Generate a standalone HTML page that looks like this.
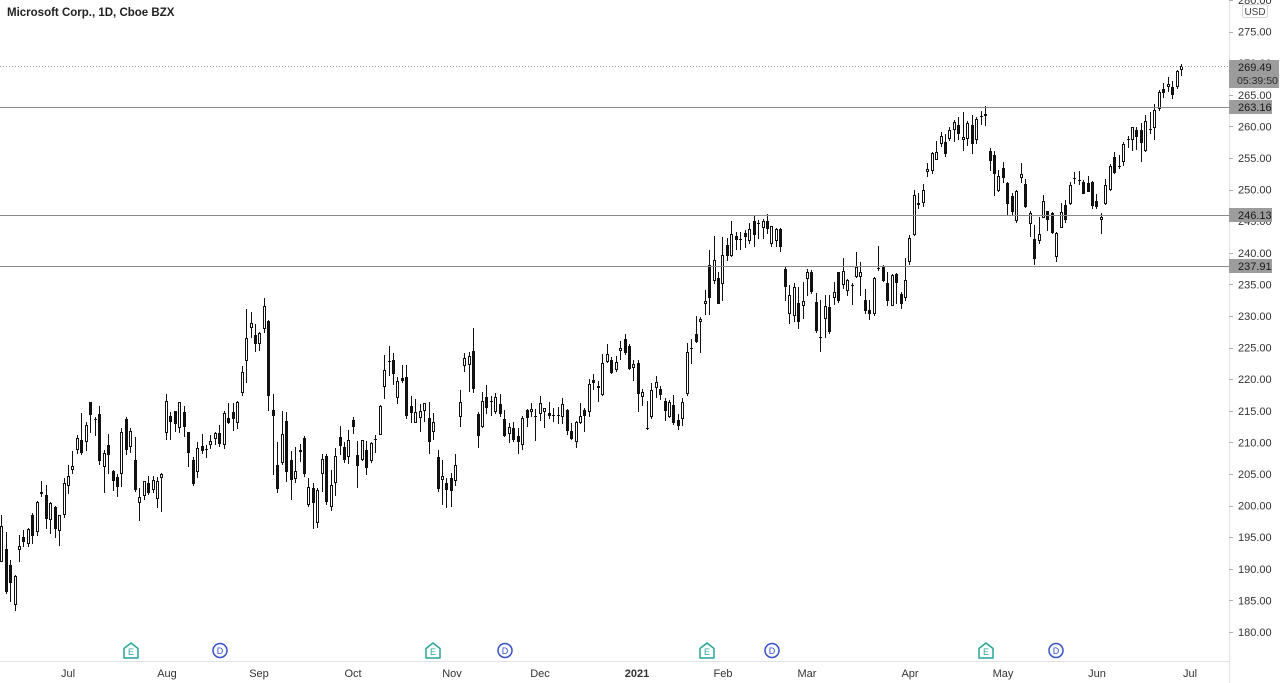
<!DOCTYPE html>
<html>
<head>
<meta charset="utf-8">
<style>
html,body{margin:0;padding:0;background:#fff;}
body{width:1280px;height:683px;overflow:hidden;}
svg{display:block;font-family:"Liberation Sans",Arial,sans-serif;}
</style>
</head>
<body>
<svg id="c" width="1280" height="683" viewBox="0 0 1280 683" xmlns="http://www.w3.org/2000/svg">
<rect width="1280" height="683" fill="#fff"/>
<g id="cand"></g>
<!-- horizontal lines -->
<line x1="0" y1="66.5" x2="1229" y2="66.5" stroke="#9a9a9a" stroke-width="1" stroke-dasharray="1,2"/>
<line x1="0" y1="107.5" x2="1229" y2="107.5" stroke="#8a8a8a" stroke-width="1"/>
<line x1="0" y1="215.5" x2="1229" y2="215.5" stroke="#8a8a8a" stroke-width="1"/>
<line x1="0" y1="266.5" x2="1229" y2="266.5" stroke="#8a8a8a" stroke-width="1"/>
<!-- axes separators -->
<line x1="1229.5" y1="0" x2="1229.5" y2="683" stroke="#e0e3eb" stroke-width="1"/>
<line x1="0" y1="661.5" x2="1229" y2="661.5" stroke="#e0e3eb" stroke-width="1"/>
<g id="axis" font-size="11" fill="#333"></g>
<!-- title -->
<text x="7" y="16" font-size="11.5" font-weight="bold" fill="#222">Microsoft Corp., 1D, Cboe BZX</text>
<!-- USD box -->
<rect x="1242.5" y="4.5" width="25" height="13" fill="#fff" stroke="#d6d6d6" rx="2"/>
<text x="1255" y="15" font-size="10" fill="#444" text-anchor="middle">USD</text>
<!-- price boxes -->
<rect x="1229" y="60" width="50" height="28" fill="#9c9c9c"/>
<text x="1238" y="71" font-size="11" fill="#1a1a1a">269.49</text>
<text x="1237" y="84" font-size="10.5" fill="#2a2a2a">05:39:50</text>
<rect x="1229" y="100" width="43" height="14" fill="#9c9c9c"/>
<text x="1238" y="111" font-size="11" fill="#1a1a1a">263.16</text>
<rect x="1229" y="208" width="43" height="14" fill="#9c9c9c"/>
<text x="1238" y="219" font-size="11" fill="#1a1a1a">246.13</text>
<rect x="1229" y="259" width="43" height="14" fill="#9c9c9c"/>
<text x="1238" y="270" font-size="11" fill="#1a1a1a">237.91</text>
<!-- time labels -->
<g font-size="11" fill="#333" text-anchor="middle">
<text x="68" y="677">Jul</text>
<text x="167" y="677">Aug</text>
<text x="259" y="677">Sep</text>
<text x="353" y="677">Oct</text>
<text x="452" y="677">Nov</text>
<text x="540" y="677">Dec</text>
<text x="637" y="677" font-weight="bold">2021</text>
<text x="723" y="677">Feb</text>
<text x="807" y="677">Mar</text>
<text x="910" y="677">Apr</text>
<text x="1003" y="677">May</text>
<text x="1097" y="677">Jun</text>
<text x="1190" y="677">Jul</text>
</g>
<g id="ev"></g>
</svg>
<script>
(function(){
var D=[
[191.13,198.52,191.01,196.84],[193.13,195.76,186.07,186.27],[190.54,191.4,184.7,187.74],[184.3,189.0,183.3,188.8],[192.9,195.3,191.1,193.57],[195.0,196.1,193.5,194.24],[193.9,196.5,193.5,196.32],[198.59,198.8,194.0,195.15],[195.8,200.8,195.2,200.57],[202.09,203.95,201.43,201.91],[201.6,203.25,196.36,197.84],[197.8,200.61,195.47,200.34],[199.73,199.89,194.88,196.33],[196.0,198.53,193.55,198.44],[198.51,204.4,198.1,203.51],
[203.14,206.35,201.77,204.70],[205.68,208.64,205.0,206.26],[208.83,211.13,208.09,210.70],[210.45,214.67,207.99,208.25],[210.07,213.26,208.69,212.83],[216.33,216.38,211.47,214.32],[213.62,214.08,211.08,213.67],[214.48,215.80,206.50,207.07],[206.13,208.85,202.03,208.35],[209.56,211.33,205.03,208.04],[205.40,205.70,202.31,203.92],[204.47,205.04,201.39,202.88],[205.0,212.30,203.01,211.60],[213.66,213.94,208.03,208.75],[209.20,212.30,208.39,211.75],[207.19,210.92,202.15,202.54],[200.42,202.86,197.51,201.30],[201.47,203.97,200.86,203.85],[203.61,204.70,201.74,202.02],[202.50,204.65,202.01,204.06],[201.0,204.46,199.57,203.90],[204.40,205.10,199.01,205.01],
[211.52,217.64,210.44,216.54],[214.17,214.77,210.31,213.29],[214.90,215.00,211.57,212.94],[212.34,216.37,211.55,216.35],[214.85,215.70,210.93,212.48],[211.67,211.67,206.09,208.25],[207.16,207.65,203.14,203.38],[205.29,210.06,204.31,209.19],[209.44,211.35,208.15,208.70],[208.76,209.59,207.51,208.90],[209.60,211.19,208.92,210.28],[210.52,211.6,209.66,211.49],[211.49,212.70,209.26,209.70],[209.54,215.00,208.91,214.58],[213.86,216.25,212.85,213.02],[214.79,216.17,211.73,213.69],[213.10,216.61,212.17,216.47],[217.88,222.09,217.36,221.15],[222.89,231.15,219.40,226.58],[228.18,230.64,226.58,228.91],[227.0,228.70,224.31,225.53],
[225.51,227.45,224.43,227.27],[227.97,232.86,227.35,231.65],[229.27,229.31,214.96,217.30],[215.10,217.6,204.8,214.25],[206.5,210.03,202.0,202.66],[206.7,214.9,206.4,211.29],[213.40,214.74,203.8,205.37],[207.20,208.63,200.9,204.03],[204.24,209.20,203.50,205.41],[208.42,209.78,206.93,208.78],[210.62,210.97,204.6,205.05],[200.05,204.40,199.8,202.91],[202.80,203.65,196.25,200.39],[197.19,202.71,196.38,202.54],[205.06,208.10,202.08,207.42],[207.90,208.10,200.03,200.59],[199.85,205.57,199.20,203.19],[203.55,209.04,201.50,207.82],[210.88,212.57,208.06,209.44],[209.35,210.07,206.72,207.26],[207.73,211.98,206.54,210.33],
[213.49,213.99,211.32,212.46],[208.00,210.19,202.75,206.19],[207.22,210.41,206.98,210.38],[208.82,210.18,204.82,205.91],[207.06,210.11,206.72,209.83],[210.51,211.19,208.32,210.58],[211.23,215.86,211.23,215.81],[218.79,223.86,216.81,221.40],[222.72,225.21,220.43,222.86],[223.00,224.22,219.13,220.86],[217.10,220.36,216.01,219.66],[220.15,222.29,219.32,219.66],[220.42,222.30,213.72,214.22],[215.80,217.37,213.09,214.65],[213.12,216.92,213.12,214.80],[213.93,216.06,211.70,214.89],[215.03,216.28,213.16,216.23],[213.85,216.34,208.10,210.08],[211.59,214.67,210.33,213.25],[207.67,208.84,202.10,202.68],[204.07,207.24,200.03,204.72],[203.50,204.29,199.62,202.47],
[204.29,205.1,199.8,202.33],[203.89,208.12,203.12,206.43],[214.02,218.32,212.42,216.39],[222.04,224.12,221.15,223.29],[222.26,224.36,218.03,223.72],[224.45,228.12,217.88,218.39],[214.50,214.76,209.11,211.01],[212.39,218.04,212.20,216.55],[217.21,219.11,214.50,215.44],[216.36,217.42,214.16,216.51],[214.87,217.74,214.52,217.23],[216.10,217.68,214.08,214.46],[213.65,215.17,210.93,211.08],[211.38,213.03,209.93,212.42],[212.20,213.29,210.00,210.39],[210.95,212.29,208.16,210.11],[209.59,214.25,208.86,213.86],[215.11,215.29,212.46,213.87],[214.85,216.27,214.04,215.23],[214.10,215.23,210.19,214.07],
[214.51,217.32,213.35,216.21],[214.88,215.47,212.24,215.37],[214.61,216.38,213.65,214.24],[214.22,215.38,213.18,214.36],[214.37,215.54,212.99,214.29],[213.97,216.95,212.89,216.01],[215.16,215.23,211.21,211.80],[211.77,213.08,210.36,210.52],[210.05,213.32,209.11,213.26],[213.10,216.21,212.88,214.20],[215.17,215.39,211.63,214.13],[214.75,220.11,214.04,219.28],[219.87,220.76,218.36,219.42],[219.0,219.70,216.32,218.59],[217.55,224.00,217.28,222.59],[222.69,225.63,222.59,223.94],[223.11,223.56,220.80,221.02],[221.42,223.61,221.20,222.75],[224.45,226.03,223.02,224.96],[226.31,227.18,223.86,224.15],[225.23,225.63,221.47,221.68],[221.70,223.00,219.68,222.42],
[222.53,223.00,214.81,217.69],[217.26,218.52,215.70,217.90],[212.17,216.49,211.94,212.25],[214.04,219.34,213.71,218.29],[218.68,220.58,217.03,219.62],[218.47,218.91,216.73,217.49],[216.50,217.10,213.32,214.93],[214.02,216.76,213.93,216.34],[215.91,217.46,212.74,213.02],[213.52,214.51,212.03,212.65],[213.75,216.98,212.63,216.44],[217.70,225.79,217.29,224.34],[224.70,226.30,222.42,224.97],[227.08,230.07,225.80,225.95],[229.12,229.78,224.22,229.53],[231.86,234.18,230.08,232.33],[238.00,240.44,230.14,232.90],[235.61,242.64,235.09,238.93],[235.99,236.94,231.84,231.96],
[235.06,242.50,232.43,239.65],[241.30,242.31,238.69,239.51],[239.57,245.09,239.26,243.00],[242.66,243.24,240.37,242.01],[242.23,243.28,240.42,242.20],[243.15,243.68,240.81,242.47],[241.87,244.76,241.38,243.77],[245.00,245.92,240.89,242.82],[244.78,245.15,242.15,244.49],[243.93,245.3,242.17,244.99],[245.03,246.13,242.92,243.70],[241.32,244.31,240.94,244.20],[241.80,243.93,240.86,243.79],[243.75,243.86,240.18,240.97],[237.42,237.93,232.40,234.51],[230.33,234.83,228.73,233.27],[230.01,235.20,229.00,234.55],[232.08,234.59,227.88,228.99],[231.53,235.37,229.54,232.38],
[235.90,237.47,233.15,236.94],[237.01,237.30,233.45,233.87],[232.16,233.58,227.26,227.56],[226.74,232.49,224.26,226.73],[229.52,233.27,226.46,231.60],[231.37,233.37,227.13,227.39],[232.88,235.38,231.67,233.78],[237.00,237.00,232.04,232.42],[234.96,239.17,234.31,237.13],[234.01,235.82,233.23,235.75],[234.96,235.19,231.81,234.81],[236.15,240.06,235.94,237.71],[236.15,238.55,233.23,237.04],[232.56,234.20,230.33,230.72],[231.02,232.47,229.35,230.35],[230.27,236.22,230.00,235.99],[237.49,241.05,237.07,237.58],[237.85,238.00,235.32,235.46],[235.30,236.94,231.57,232.34],[231.55,236.71,231.55,236.48],[236.59,236.80,231.88,235.24],[233.53,233.85,231.10,231.85],[232.91,239.10,232.39,235.77],
[238.47,242.84,238.05,242.35],[242.76,249.96,242.70,249.07],[247.61,249.40,246.88,247.86],[247.81,250.93,247.19,249.90],[252.77,254.14,252.00,253.25],[252.87,255.99,252.44,255.85],[254.71,257.67,254.62,255.91],[257.26,259.13,256.70,258.49],[257.48,258.84,255.16,255.59],[257.93,259.93,257.73,259.50],[259.47,261.00,257.60,260.74],[260.19,261.48,257.82,258.74],[257.82,262.30,256.11,258.26],[258.00,260.8,256.84,260.58],[260.21,261.78,255.64,257.17],[257.88,261.51,257.27,261.15],[261.66,262.44,260.17,261.55],[261.58,263.19,260.12,261.97],[256.08,256.54,252.95,254.56],[255.46,256.10,249.00,252.51],[249.74,253.08,249.60,252.18],
[253.40,254.35,251.12,251.86],[250.97,251.21,245.76,247.79],[249.06,249.50,245.82,246.47],[245.0,249.9,244.69,249.73],[251.9,254.2,251.0,252.46],[250.87,251.73,247.12,247.18],[244.55,246.60,242.57,246.23],[242.17,244.38,238.07,239.00],[241.80,245.60,241.42,243.03],[245.58,249.18,245.49,248.15],[246.55,246.59,243.52,245.18],[246.27,246.41,242.90,243.08],[239.31,243.23,238.60,243.12],[243.96,247.95,243.86,246.48],[247.57,248.33,244.74,245.17],[247.79,251.16,247.51,250.78],[251.77,252.75,250.82,251.72],[251.43,252.94,250.75,251.49],[251.17,251.48,249.25,249.31],[251.00,252.08,249.56,249.68],
[251.23,251.29,246.96,247.40],[248.13,249.27,246.95,247.30],[245.22,246.34,242.90,245.71],[247.76,251.65,247.51,250.79],[249.98,254.09,249.81,253.81],[255.16,256.01,252.51,252.57],[253.81,255.53,253.21,253.59],[254.29,257.46,253.67,257.24],[257.99,258.49,256.61,257.89],[257.90,259.9,256.04,259.89],[259.50,259.90,256.23,258.36],[259.40,260.58,254.42,257.38],[256.07,261.75,256.01,260.90],[259.63,262.30,258.75,259.43],[259.82,263.52,257.92,262.63],[262.72,265.79,262.40,265.51],[265.99,266.83,264.43,265.27],[266.16,267.85,265.47,266.69],[266.23,267.25,264.29,265.02],[266.19,268.90,265.91,268.72],[268.9,269.8,267.98,269.49]
];
function Y(p){return 632-(p-180)*6.32;}
var s='',col='#111';
for(var i=0;i<D.length;i++){
 var d=D[i],idx=i-15,X=Math.round(68+idx*4.452);
 var o=d[0],h=d[1],l=d[2],c=d[3];
 var yh=Math.round(Y(h)),yl=Math.round(Y(l)),yo=Math.round(Y(o)),yc=Math.round(Y(c));
 var bt=Math.min(yo,yc),bb=Math.max(yo,yc);
 if(bb-bt<1){bb=bt+1;}
 var xw=X+0.5;
 if(bt>yh) s+='<line x1="'+xw+'" y1="'+yh+'" x2="'+xw+'" y2="'+bt+'" stroke="'+col+'"/>';
 if(yl>bb) s+='<line x1="'+xw+'" y1="'+bb+'" x2="'+xw+'" y2="'+yl+'" stroke="'+col+'"/>';
 if(c<o || bb-bt<3){
   s+='<rect x="'+(X-1)+'" y="'+bt+'" width="3" height="'+(bb-bt)+'" fill="'+col+'"/>';
 } else {
   s+='<rect x="'+(X-0.5)+'" y="'+(bt+0.5)+'" width="2" height="'+(bb-bt-1)+'" fill="#fff" stroke="'+col+'"/>';
 }
}
document.getElementById('cand').innerHTML=s;
var a='';
for(var p=180;p<=280;p+=5){
 var yy=Y(p);
 a+='<line x1="1229" y1="'+(Math.round(yy)+0.5)+'" x2="1233" y2="'+(Math.round(yy)+0.5)+'" stroke="#b0b0b0"/>';
 a+='<text x="1238" y="'+(yy+4)+'">'+p.toFixed(2)+'</text>';
}
document.getElementById('axis').innerHTML=a;
var ev='';
[131,433,707,986].forEach(function(x){
 ev+='<path d="M'+(x-7)+' 658 L'+(x+7)+' 658 L'+(x+7)+' 648.5 L'+x+' 643 L'+(x-7)+' 648.5 Z" fill="#fff" stroke="#26a69a" stroke-width="1.5" stroke-linejoin="round"/>';
 ev+='<text x="'+x+'" y="655" font-size="9" fill="#26a69a" text-anchor="middle">E</text>';
});
[220,505,772,1056].forEach(function(x){
 ev+='<circle cx="'+x+'" cy="650.5" r="7" fill="#fff" stroke="#3552c8" stroke-width="1.5"/>';
 ev+='<text x="'+x+'" y="654" font-size="9" fill="#3552c8" text-anchor="middle">D</text>';
});
document.getElementById('ev').innerHTML=ev;
})();
</script>
</body>
</html>
